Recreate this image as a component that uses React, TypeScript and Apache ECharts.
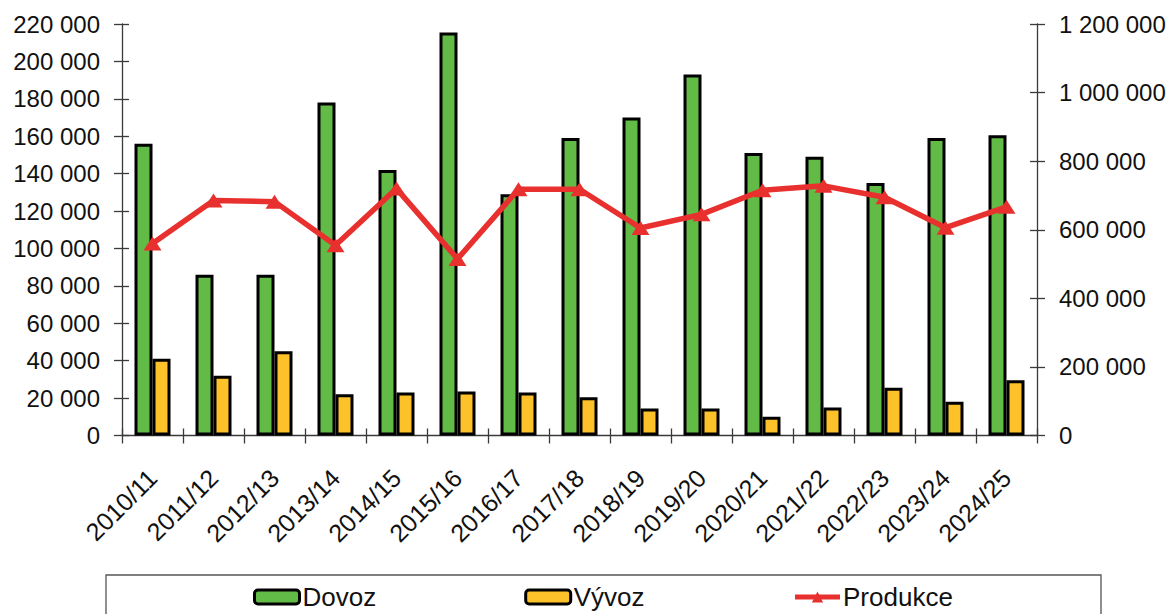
import React, { useEffect, useRef } from "react";
import * as echarts from "echarts";

const categories = [
  "2010/11", "2011/12", "2012/13", "2013/14", "2014/15", "2015/16", "2016/17", "2017/18",
  "2018/19", "2019/20", "2020/21", "2021/22", "2022/23", "2023/24", "2024/25",
];
const dovoz = [156000, 86000, 86000, 178000, 142000, 215500, 129000, 159000, 170000, 193000, 151000, 149000, 135000, 159000, 160500];
const vyvoz = [41000, 32000, 45000, 22000, 23000, 23500, 23000, 20500, 14500, 14500, 10000, 15000, 25500, 18000, 29500];
const produkce = [560000, 685000, 682000, 555000, 720000, 515000, 718000, 718000, 605000, 645000, 715000, 728000, 695000, 606000, 667000];

const leftTicks = { min: 0, max: 220000, interval: 20000 };
const rightTicks = { min: 0, max: 1200000, interval: 200000 };

const FONT = "'Liberation Sans', Arial, sans-serif";
const AXIS_COLOR = "#3a3a3a";
const RED = "#E8302E";

function fmt(v: number): string {
  return String(Math.round(v)).replace(/\B(?=(\d{3})+(?!\d))/g, " ");
}

export default function App() {
  const ref = useRef<HTMLDivElement>(null);
  useEffect(() => {
    if (!ref.current) return;
    const chart = echarts.init(ref.current, null, { renderer: "svg" });
    const axisLine = { show: true, lineStyle: { color: AXIS_COLOR, width: 1.3 } };
    const tickOut = { show: true, inside: false, length: 8, lineStyle: { color: AXIS_COLOR, width: 1.3 } };
    const tickIn = { show: true, inside: true, length: 7, lineStyle: { color: AXIS_COLOR, width: 1.3 } };
    chart.setOption({
      animation: false,
      backgroundColor: "#ffffff",
      textStyle: { fontFamily: FONT },
      grid: { left: 122, right: 135, top: 24, bottom: 178.5, containLabel: false, outerBoundsMode: "none" },
      legend: {
        left: 253,
        top: 584,
        padding: 0,
        itemWidth: 45,
        itemHeight: 14,
        itemGap: 148,
        textStyle: { fontSize: 26, color: "#111", fontFamily: FONT, padding: [0, 0, 0, -2] },
        data: [
          { name: "Dovoz", itemStyle: { borderWidth: 3, borderColor: "#000" } },
          { name: "Vývoz", itemStyle: { borderWidth: 3, borderColor: "#000" } },
          { name: "Produkce", lineStyle: { width: 5, color: RED } },
        ],
      },
      graphic: [
        {
          type: "rect",
          shape: { x: 106, y: 575, width: 995, height: 60 },
          style: { fill: "none", stroke: "#555", lineWidth: 1.3 },
          silent: true,
        },
      ],
      xAxis: [
        {
          type: "category",
          data: categories,
          position: "bottom",
          axisLine,
          axisTick: tickOut,
          axisLabel: {
            rotate: 45,
            interval: 0,
            fontSize: 25,
            color: "#111",
            fontFamily: FONT,
            margin: 38,
          },
          splitLine: { show: false },
        },
        {
          type: "category",
          data: categories,
          position: "bottom",
          offset: 0,
          axisLine: { show: false },
          axisTick: tickIn,
          axisLabel: { show: false },
          splitLine: { show: false },
        },
      ],
      yAxis: [
        {
          type: "value",
          position: "left",
          ...leftTicks,
          axisLine,
          axisTick: tickOut,
          splitLine: { show: false },
          axisLabel: { fontSize: 24, color: "#111", margin: 22, fontFamily: FONT, formatter: (v: number) => fmt(v) },
        },
        {
          type: "value",
          position: "right",
          ...rightTicks,
          axisLine,
          axisTick: tickOut,
          splitLine: { show: false },
          axisLabel: { fontSize: 24, color: "#111", margin: 22, fontFamily: FONT, formatter: (v: number) => fmt(v) },
        },
        {
          type: "value",
          position: "left",
          offset: 0,
          ...leftTicks,
          axisLine: { show: false },
          axisTick: tickIn,
          axisLabel: { show: false },
          splitLine: { show: false },
        },
        {
          type: "value",
          position: "right",
          offset: 0,
          ...rightTicks,
          axisLine: { show: false },
          axisTick: tickIn,
          axisLabel: { show: false },
          splitLine: { show: false },
        },
      ],
      series: [
        {
          name: "Dovoz",
          type: "bar",
          data: dovoz,
          barWidth: 18,
          barGap: "0%",
          itemStyle: { color: "#62BB46", borderColor: "#000", borderWidth: 3 },
          z: 2,
        },
        {
          name: "Vývoz",
          type: "bar",
          data: vyvoz,
          barWidth: 18,
          barGap: "0%",
          itemStyle: { color: "#FDC12A", borderColor: "#000", borderWidth: 3 },
          z: 2,
        },
        {
          name: "Produkce",
          type: "line",
          yAxisIndex: 1,
          data: produkce,
          symbol: "triangle",
          symbolSize: [18, 14],
          lineStyle: { color: RED, width: 5.5 },
          itemStyle: { color: RED },
          z: 5,
        },
      ],
    });
    return () => chart.dispose();
  }, []);
  return (
    <div
      ref={ref}
      style={{ position: "fixed", left: 0, top: 0, width: 1172, height: 614, background: "#fff" }}
    />
  );
}
